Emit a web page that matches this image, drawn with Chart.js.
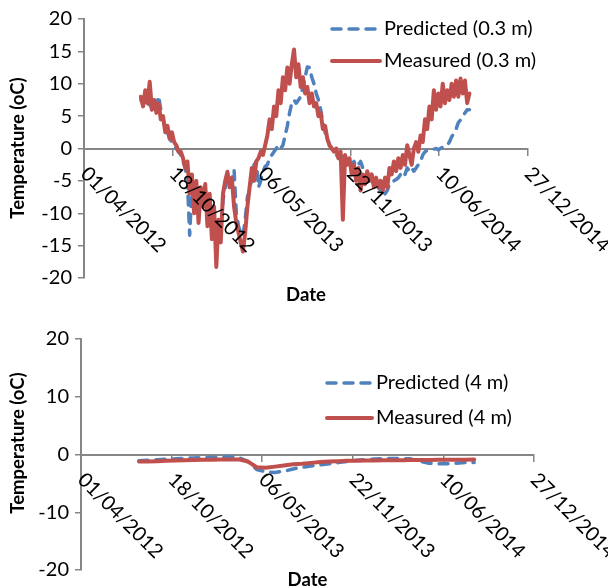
<!DOCTYPE html>
<html>
<head>
<meta charset="utf-8">
<script src="https://cdn.jsdelivr.net/npm/chart.js@4.4.1/dist/chart.umd.min.js"></script>
<style>
  html, body { margin: 0; padding: 0; background: #fff; }
  .panel { position: absolute; left: 0; width: 608px; }
  #top { top: 0; height: 312px; }
  #bottom { top: 312px; height: 276px; }
</style>
</head>
<body>
<div class="panel" id="top"><canvas id="chartTop"></canvas></div>
<div class="panel" id="bottom"><canvas id="chartBottom"></canvas></div>
<script>
// x axis = days since 01/04/2012, ticks every 200 days
const xTickLabels = ["01/04/2012", "18/10/2012", "06/05/2013", "22/11/2013", "10/06/2014", "27/12/2014"];

// 0.3 m depth, one value every 5 days starting day 128
const shallowFirstDay = 128;
const shallowStep = 5;
const shallowMeasured = [
  8, 6.5, 9, 7, 10.3, 6, 7.5, 5.5, 7, 4.5,
  5, 2.5, 3.5, 1.5, 2.5, 1, 0.5, -0.5, -0.5, -1.5,
  -3, -2, -7, -4, -10, -5, -11.5, -6, -9, -5.5,
  -12, -7, -14, -9, -18.3, -11, -14.5, -7, -5, -3.6,
  -6, -4.5, -9, -11.5, -13, -14.5, -15.9, -13, -9, -6,
  -3, -5, -2, -1.5, -0.5, -1, 0.5, 2, 4.5, 3,
  6.5, 5, 9, 7, 11, 9, 12.5, 10, 13, 15.3,
  11, 13, 9.5, 11, 8.5, 9.5, 7, 8.5, 6.5, 7,
  5, 5.5, 3, 3.5, 1.5, 0.5, 0, -0.5, 0, -1.5,
  -0.5, -11, -1, -2.5, -1.5, -4, -2.5, -5, -3, -6.5,
  -4, -5.5, -3.5, -5, -4, -6, -4.5, -6, -5, -6.5,
  -4.5, -6, -3, -4, -2, -3.5, -1.5, -3, -1, -2.5,
  0.5, -1, -2.5, 0, 1, -0.5, 2, 1, 4.5, 3,
  6.5, 4.5, 9, 6, 8.5, 6.5, 10, 7, 9, 7.5,
  10, 8, 10.5, 8, 10.8, 8.5, 10.5, 7, 8.5
];
const shallowPredicted = [
  7.5, 7, 7.5, 6.5, 7, 6, 7, 6.5, 8.1, 6,
  4.5, 3, 2.5, 1.5, 1, 0.5, 0, -0.5, -1, -2,
  -3, -5, -13.4, -6, -9, -6, -10, -7, -9, -6,
  -11, -8, -13, -10, -16, -12, -13, -8, -6, -4.5,
  -5, -5.5, -3.3, -10, -12, -13, -13.5, -11, -7.5, -6.5,
  -4.5, -2.5, -2, -6, -5, -3.5, -2.8, -2.5, -1.5, -1,
  -0.5, 0, 0.5, 0, 0.5, 2, 3.5, 5.5, 7, 7.5,
  7, 7.5, 8, 9.5, 11, 12.6, 12.5, 11, 10, 8.5,
  7.5, 6, 4, 2.5, 1.5, 0.5, 0, -0.5, -1, -1.3,
  -1.5, -1.2, -1.5, -1.8, -2, -2.5, -2, -2.8, -2.5, -2,
  -3, -3.5, -4, -4.5, -5, -5.5, -5, -6, -6.5, -6.3,
  -7, -6.5, -5.5, -5.3, -5, -4.8, -4.5, -4, -3.5, -4,
  -3, -3.5, -3, -3.5, -3, -2.5, -2, -1, -0.5, -0.3,
  -0.2, -0.2, -0.1, 0, -0.2, 0, 0.2, 0.3, 0.5, 1,
  1.8, 2.3, 3, 4, 4.4, 5, 5.5, 6, 6
];

// 4 m depth, one value every 20 days starting day 128
const deepFirstDay = 128;
const deepStep = 20;
const deepMeasured = [
  -1.2, -1.2, -1.15, -1.1, -1.05, -1.0, -0.95, -0.9, -0.9, -0.85,
  -0.85, -0.85, -1.2, -2.2, -2.3, -2.1, -1.9, -1.7, -1.6, -1.45,
  -1.3, -1.2, -1.15, -1.1, -1.1, -1.05, -1.05, -1.0, -1.0, -1.0,
  -0.95, -0.95, -0.95, -0.9, -0.9, -0.9, -0.9, -0.85
];
const deepPredicted = [
  -1.1, -1.0, -0.9, -0.8, -0.75, -0.65, -0.6, -0.55, -0.5, -0.45,
  -0.4, -0.5, -1.2, -2.6, -3.0, -3.1, -2.9, -2.5, -2.2, -2.0,
  -1.8, -1.6, -1.4, -1.2, -1.0, -0.9, -0.8, -0.7, -0.7, -0.7,
  -0.75, -1.2, -1.5, -1.6, -1.6, -1.5, -1.4, -1.4
];

const BLUE = "#4F81BD";
const RED = "#C0504D";
const AXIS = "#868686";
const FONT = "Lato, 'Open Sans', sans-serif";

const toPoints = (vals, first, step) => vals.map((v, i) => ({ x: first + i * step, y: v }));

// draws the Excel-style bits: slanted date labels, titles, in-plot legend
const excelDecor = {
  id: "excelDecor",
  afterDraw(chart, args, o) {
    const ctx = chart.ctx;
    const xs = chart.scales.x;
    const axisY = chart.scales.y.getPixelForValue(0);
    const area = chart.chartArea;
    ctx.save();
    ctx.fillStyle = "#000";
    ctx.font = "20px " + FONT;
    ctx.textAlign = "left";
    ctx.textBaseline = "middle";
    xs.ticks.forEach((t, i) => {
      const px = xs.getPixelForValue(t.value);
      ctx.save();
      ctx.translate(px + o.labelDx, axisY + o.labelDy);
      ctx.rotate(Math.PI / 4);
      ctx.fillText(xTickLabels[i], 0, 0);
      ctx.restore();
    });

    ctx.font = "bold 18.5px " + FONT;
    ctx.textAlign = "center";
    ctx.fillText("Date", (area.left + area.right) / 2, o.xTitleY);
    ctx.save();
    ctx.translate(o.yTitleX, o.yTitleY);
    ctx.rotate(-Math.PI / 2);
    ctx.fillText("Temperature (oC)", 0, 0);
    ctx.restore();

    chart.data.datasets.forEach((ds, i) => {
      const y = o.legendY[i];
      ctx.beginPath();
      ctx.setLineDash(ds.borderDash || []);
      ctx.lineCap = "round";
      ctx.strokeStyle = ds.borderColor;
      ctx.lineWidth = ds.borderWidth;
      ctx.moveTo(o.legendX, y);
      ctx.lineTo(o.legendX + o.legendLen, y);
      ctx.stroke();
      ctx.setLineDash([]);
      ctx.font = "20px " + FONT;
      ctx.textAlign = "left";
      ctx.fillText(ds.label, o.legendX + o.legendLen + 4, y);
    });
    ctx.restore();
  }
};

function makeChart(id, cfg) {
  return new Chart(document.getElementById(id), {
    type: "line",
    data: {
      datasets: [
        {
          label: cfg.predLabel,
          data: toPoints(cfg.predicted, cfg.firstDay, cfg.step),
          borderColor: BLUE,
          borderWidth: 3.5,
          borderDash: [9, 8],
          borderCapStyle: "round",
          borderJoinStyle: "round",
          pointRadius: 0,
          order: 1
        },
        {
          label: cfg.measLabel,
          data: toPoints(cfg.measured, cfg.firstDay, cfg.step),
          borderColor: RED,
          borderWidth: 4,
          borderJoinStyle: "round",
          borderCapStyle: "round",
          pointRadius: 0,
          order: 0
        }
      ]
    },
    options: {
      responsive: true,
      maintainAspectRatio: false,
      animation: false,
      layout: { padding: { left: 0, right: cfg.padRight, top: cfg.padTop, bottom: cfg.padBottom } },
      plugins: {
        legend: { display: false },
        tooltip: { enabled: false },
        excelDecor: cfg.decor
      },
      scales: {
        x: {
          type: "linear",
          min: 0,
          max: 1000,
          position: { y: 0 },
          ticks: { display: false, stepSize: 200 },
          grid: { display: true, drawOnChartArea: false, drawTicks: true, tickLength: 6, color: AXIS, lineWidth: 1.5 },
          border: { display: true, color: AXIS, width: 2 }
        },
        y: {
          min: cfg.yMin,
          max: cfg.yMax,
          ticks: { stepSize: cfg.yStep, color: "#000", padding: 6, font: { family: FONT, size: 20 } },
          grid: { display: true, drawOnChartArea: false, drawTicks: true, tickLength: 6, color: AXIS, lineWidth: 1.5 },
          border: { display: true, color: AXIS, width: 2 },
          afterFit: (s) => { s.width = cfg.axisLeft; }
        }
      }
    },
    plugins: [excelDecor]
  });
}

makeChart("chartTop", {
  predLabel: "Predicted (0.3 m)",
  measLabel: "Measured (0.3 m)",
  predicted: shallowPredicted,
  measured: shallowMeasured,
  firstDay: shallowFirstDay,
  step: shallowStep,
  yMin: -20, yMax: 20, yStep: 5,
  axisLeft: 84, padRight: 80, padTop: 19, padBottom: 34,
  decor: { labelDx: 0, labelDy: 22, xTitleY: 295, yTitleX: 18, yTitleY: 148,
           legendX: 332, legendLen: 48, legendY: [29, 61] }
});

makeChart("chartBottom", {
  predLabel: "Predicted (4 m)",
  measLabel: "Measured (4 m)",
  predicted: deepPredicted,
  measured: deepMeasured,
  firstDay: deepFirstDay,
  step: deepStep,
  yMin: -20, yMax: 20, yStep: 10,
  axisLeft: 81, padRight: 74, padTop: 27, padBottom: 11,
  decor: { labelDx: 0, labelDy: 22, xTitleY: 268, yTitleX: 18, yTitleY: 131,
           legendX: 327, legendLen: 45, legendY: [71, 106] }
});
</script>
</body>
</html>
